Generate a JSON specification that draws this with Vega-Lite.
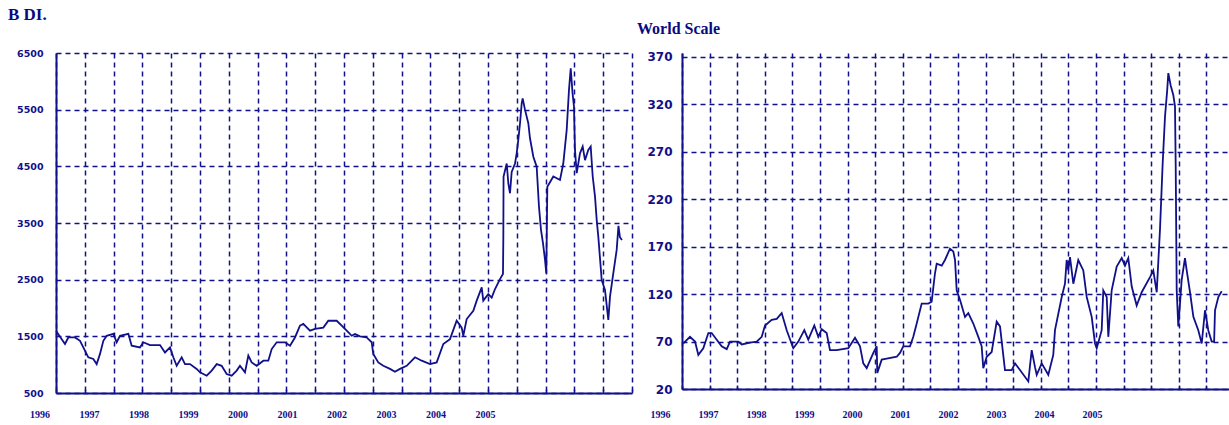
{
  "$schema": "https://vega.github.io/schema/vega-lite/v6.json",
  "background": "white",
  "autosize": {"type": "pad"},
  "padding": {"left": 8, "top": 6, "right": 0, "bottom": 0},
  "bounds": "flush",
  "spacing": 50,
  "config": {"view": {"stroke": null}},
  "datasets": {
    "bdi": [
      {"t": 1996.000, "v": 1600}, {"t": 1996.058, "v": 1510}, {"t": 1996.156, "v": 1365}, {"t": 1996.214, "v": 1480},
      {"t": 1996.330, "v": 1480}, {"t": 1996.417, "v": 1420}, {"t": 1996.474, "v": 1305}, {"t": 1996.561, "v": 1130},
      {"t": 1996.648, "v": 1100}, {"t": 1996.706, "v": 1010}, {"t": 1996.764, "v": 1190}, {"t": 1996.822, "v": 1420},
      {"t": 1996.880, "v": 1510}, {"t": 1996.995, "v": 1545}, {"t": 1997.053, "v": 1395}, {"t": 1997.111, "v": 1510},
      {"t": 1997.256, "v": 1545}, {"t": 1997.314, "v": 1335}, {"t": 1997.458, "v": 1305}, {"t": 1997.516, "v": 1395},
      {"t": 1997.632, "v": 1345}, {"t": 1997.806, "v": 1345}, {"t": 1997.892, "v": 1215}, {"t": 1997.979, "v": 1305},
      {"t": 1998.037, "v": 1130}, {"t": 1998.095, "v": 980}, {"t": 1998.182, "v": 1130}, {"t": 1998.240, "v": 1010},
      {"t": 1998.326, "v": 1010}, {"t": 1998.442, "v": 925}, {"t": 1998.500, "v": 865}, {"t": 1998.616, "v": 805},
      {"t": 1998.703, "v": 895}, {"t": 1998.790, "v": 1010}, {"t": 1998.876, "v": 980}, {"t": 1998.963, "v": 835},
      {"t": 1999.050, "v": 805}, {"t": 1999.137, "v": 895}, {"t": 1999.194, "v": 980}, {"t": 1999.281, "v": 865},
      {"t": 1999.339, "v": 1160}, {"t": 1999.397, "v": 1040}, {"t": 1999.484, "v": 980}, {"t": 1999.600, "v": 1070},
      {"t": 1999.686, "v": 1070}, {"t": 1999.745, "v": 1275}, {"t": 1999.831, "v": 1395}, {"t": 1999.976, "v": 1395},
      {"t": 2000.063, "v": 1335}, {"t": 2000.149, "v": 1480}, {"t": 2000.236, "v": 1690}, {"t": 2000.294, "v": 1720},
      {"t": 2000.323, "v": 1690}, {"t": 2000.410, "v": 1600}, {"t": 2000.497, "v": 1630}, {"t": 2000.641, "v": 1655},
      {"t": 2000.728, "v": 1775}, {"t": 2000.873, "v": 1775}, {"t": 2000.960, "v": 1690}, {"t": 2001.047, "v": 1600},
      {"t": 2001.134, "v": 1510}, {"t": 2001.191, "v": 1540}, {"t": 2001.278, "v": 1500}, {"t": 2001.394, "v": 1480},
      {"t": 2001.481, "v": 1395}, {"t": 2001.508, "v": 1190}, {"t": 2001.595, "v": 1040}, {"t": 2001.682, "v": 980},
      {"t": 2001.799, "v": 925}, {"t": 2001.885, "v": 875}, {"t": 2001.972, "v": 925}, {"t": 2002.088, "v": 980},
      {"t": 2002.233, "v": 1130}, {"t": 2002.349, "v": 1070}, {"t": 2002.493, "v": 1010}, {"t": 2002.609, "v": 1040},
      {"t": 2002.724, "v": 1365}, {"t": 2002.840, "v": 1450}, {"t": 2002.956, "v": 1775}, {"t": 2003.043, "v": 1655},
      {"t": 2003.071, "v": 1510}, {"t": 2003.130, "v": 1805}, {"t": 2003.245, "v": 1950}, {"t": 2003.304, "v": 2130},
      {"t": 2003.391, "v": 2365}, {"t": 2003.418, "v": 2130}, {"t": 2003.505, "v": 2245}, {"t": 2003.564, "v": 2185},
      {"t": 2003.622, "v": 2335}, {"t": 2003.708, "v": 2510}, {"t": 2003.760, "v": 2600}, {"t": 2003.766, "v": 3220},
      {"t": 2003.770, "v": 4320}, {"t": 2003.825, "v": 4550}, {"t": 2003.853, "v": 4200}, {"t": 2003.882, "v": 4025},
      {"t": 2003.911, "v": 4400}, {"t": 2003.969, "v": 4550}, {"t": 2003.998, "v": 4730}, {"t": 2004.026, "v": 4965},
      {"t": 2004.056, "v": 5260}, {"t": 2004.085, "v": 5610}, {"t": 2004.102, "v": 5700}, {"t": 2004.142, "v": 5500},
      {"t": 2004.200, "v": 5260}, {"t": 2004.229, "v": 4995}, {"t": 2004.287, "v": 4670}, {"t": 2004.345, "v": 4495},
      {"t": 2004.385, "v": 3790}, {"t": 2004.420, "v": 3380}, {"t": 2004.455, "v": 3140}, {"t": 2004.490, "v": 2850},
      {"t": 2004.512, "v": 2610}, {"t": 2004.530, "v": 4140}, {"t": 2004.634, "v": 4320}, {"t": 2004.750, "v": 4260},
      {"t": 2004.807, "v": 4550}, {"t": 2004.866, "v": 5140}, {"t": 2004.906, "v": 5850}, {"t": 2004.936, "v": 6230},
      {"t": 2004.967, "v": 5800}, {"t": 2004.993, "v": 5550}, {"t": 2005.010, "v": 4790}, {"t": 2005.040, "v": 4380},
      {"t": 2005.097, "v": 4730}, {"t": 2005.144, "v": 4850}, {"t": 2005.184, "v": 4610}, {"t": 2005.241, "v": 4790},
      {"t": 2005.283, "v": 4850}, {"t": 2005.318, "v": 4320}, {"t": 2005.358, "v": 3965}, {"t": 2005.387, "v": 3555},
      {"t": 2005.415, "v": 3260}, {"t": 2005.474, "v": 2495}, {"t": 2005.531, "v": 2320}, {"t": 2005.589, "v": 1790},
      {"t": 2005.618, "v": 2200}, {"t": 2005.675, "v": 2610}, {"t": 2005.734, "v": 3025}, {"t": 2005.765, "v": 3450},
      {"t": 2005.790, "v": 3250}, {"t": 2005.826, "v": 3200}
    ],
    "ws": [
      {"t": 1996.024, "v": 68}, {"t": 1996.145, "v": 75}, {"t": 1996.236, "v": 70}, {"t": 1996.296, "v": 56},
      {"t": 1996.386, "v": 63}, {"t": 1996.477, "v": 79}, {"t": 1996.538, "v": 79}, {"t": 1996.629, "v": 72},
      {"t": 1996.719, "v": 65}, {"t": 1996.810, "v": 62}, {"t": 1996.870, "v": 70}, {"t": 1997.020, "v": 70},
      {"t": 1997.082, "v": 67}, {"t": 1997.232, "v": 69}, {"t": 1997.353, "v": 70}, {"t": 1997.444, "v": 75},
      {"t": 1997.504, "v": 87}, {"t": 1997.625, "v": 93}, {"t": 1997.716, "v": 94}, {"t": 1997.806, "v": 100},
      {"t": 1997.897, "v": 82}, {"t": 1998.016, "v": 63}, {"t": 1998.107, "v": 70}, {"t": 1998.216, "v": 82},
      {"t": 1998.288, "v": 72}, {"t": 1998.397, "v": 87}, {"t": 1998.469, "v": 75}, {"t": 1998.531, "v": 83},
      {"t": 1998.621, "v": 79}, {"t": 1998.681, "v": 61}, {"t": 1998.802, "v": 61}, {"t": 1999.013, "v": 63},
      {"t": 1999.134, "v": 74}, {"t": 1999.225, "v": 65}, {"t": 1999.284, "v": 47}, {"t": 1999.346, "v": 42},
      {"t": 1999.466, "v": 58}, {"t": 1999.527, "v": 65}, {"t": 1999.538, "v": 37}, {"t": 1999.618, "v": 51},
      {"t": 1999.708, "v": 52}, {"t": 1999.890, "v": 54}, {"t": 1999.949, "v": 58}, {"t": 2000.009, "v": 65},
      {"t": 2000.130, "v": 65}, {"t": 2000.190, "v": 75}, {"t": 2000.252, "v": 89}, {"t": 2000.342, "v": 110},
      {"t": 2000.462, "v": 110}, {"t": 2000.523, "v": 112}, {"t": 2000.583, "v": 142}, {"t": 2000.614, "v": 152},
      {"t": 2000.705, "v": 150}, {"t": 2000.764, "v": 156}, {"t": 2000.855, "v": 168}, {"t": 2000.915, "v": 165},
      {"t": 2000.946, "v": 156}, {"t": 2000.976, "v": 124}, {"t": 2001.036, "v": 114}, {"t": 2001.127, "v": 96},
      {"t": 2001.187, "v": 100}, {"t": 2001.277, "v": 89}, {"t": 2001.368, "v": 75}, {"t": 2001.429, "v": 65},
      {"t": 2001.458, "v": 42}, {"t": 2001.520, "v": 54}, {"t": 2001.610, "v": 59}, {"t": 2001.701, "v": 91},
      {"t": 2001.761, "v": 86}, {"t": 2001.851, "v": 40}, {"t": 2001.973, "v": 40}, {"t": 2002.033, "v": 47},
      {"t": 2002.123, "v": 40}, {"t": 2002.274, "v": 28}, {"t": 2002.335, "v": 61}, {"t": 2002.395, "v": 43},
      {"t": 2002.426, "v": 35}, {"t": 2002.516, "v": 47}, {"t": 2002.636, "v": 35}, {"t": 2002.726, "v": 56},
      {"t": 2002.757, "v": 82}, {"t": 2002.879, "v": 117}, {"t": 2002.938, "v": 131}, {"t": 2002.969, "v": 156},
      {"t": 2002.998, "v": 145}, {"t": 2003.029, "v": 159}, {"t": 2003.089, "v": 131}, {"t": 2003.179, "v": 156},
      {"t": 2003.270, "v": 145}, {"t": 2003.332, "v": 117}, {"t": 2003.422, "v": 96}, {"t": 2003.482, "v": 68},
      {"t": 2003.513, "v": 63}, {"t": 2003.603, "v": 82}, {"t": 2003.632, "v": 124}, {"t": 2003.694, "v": 117},
      {"t": 2003.723, "v": 75}, {"t": 2003.784, "v": 124}, {"t": 2003.875, "v": 149}, {"t": 2003.966, "v": 158},
      {"t": 2004.025, "v": 150}, {"t": 2004.085, "v": 158}, {"t": 2004.147, "v": 128}, {"t": 2004.237, "v": 108},
      {"t": 2004.328, "v": 122}, {"t": 2004.478, "v": 138}, {"t": 2004.538, "v": 145}, {"t": 2004.600, "v": 122},
      {"t": 2004.659, "v": 188}, {"t": 2004.708, "v": 258}, {"t": 2004.750, "v": 307}, {"t": 2004.790, "v": 335},
      {"t": 2004.810, "v": 353}, {"t": 2004.853, "v": 340}, {"t": 2004.900, "v": 330}, {"t": 2004.931, "v": 318},
      {"t": 2004.944, "v": 254}, {"t": 2004.962, "v": 124}, {"t": 2004.991, "v": 86}, {"t": 2005.022, "v": 110},
      {"t": 2005.052, "v": 135}, {"t": 2005.112, "v": 158}, {"t": 2005.143, "v": 145}, {"t": 2005.203, "v": 122},
      {"t": 2005.264, "v": 96}, {"t": 2005.353, "v": 82}, {"t": 2005.415, "v": 68}, {"t": 2005.475, "v": 103},
      {"t": 2005.534, "v": 82}, {"t": 2005.596, "v": 70}, {"t": 2005.640, "v": 70}, {"t": 2005.656, "v": 103},
      {"t": 2005.716, "v": 117}, {"t": 2005.777, "v": 123}
    ]
  },
  "hconcat": [
    {
      "width": 576,
      "height": 340,
      "title": {"text": "B DI.", "anchor": "start", "frame": "group", "dx": -48, "offset": 24, "font": "Liberation Serif", "fontSize": 17, "fontWeight": "bold", "color": "#0a0a80"},
      "data": {"name": "bdi"},
      "mark": {"type": "line", "color": "#10108a", "strokeWidth": 1.8},
      "encoding": {
        "x": {
          "field": "t", "type": "quantitative",
          "scale": {"domain": [1996, 2006], "nice": false, "zero": false},
          "axis": {
            "values": [1996, 1996.5, 1997, 1997.5, 1998, 1998.5, 1999, 1999.5, 2000, 2000.5, 2001, 2001.5, 2002, 2002.5, 2003, 2003.5, 2004, 2004.5, 2005, 2005.5, 2006],
            "title": null, "grid": true, "gridColor": "#10108a", "gridDash": [5, 4], "gridWidth": 1.5,
            "domainColor": "#10108a", "domainWidth": 2, "tickColor": "#10108a", "tickSize": -4, "tickWidth": 1.5,
            "labelExpr": "datum.value % 1 == 0 && datum.value < 2006 ? format(datum.value, 'd') : ''",
            "labelFont": "Liberation Sans Narrow", "labelFontSize": 10, "labelFontWeight": "bold", "labelColor": "#10108a",
            "labelPadding": 20, "labelFlush": false, "labelOverlap": false, "labelBound": false,
            "labelOffset": {"expr": "-16.5 - 8.1 * (datum.value - 1996)"}
          }
        },
        "y": {
          "field": "v", "type": "quantitative",
          "scale": {"domain": [500, 6500], "nice": false, "zero": false},
          "axis": {
            "values": [500, 1500, 2500, 3500, 4500, 5500, 6500], "format": "d",
            "title": null, "grid": true, "gridColor": "#10108a", "gridDash": [5, 4], "gridWidth": 1.5,
            "domainColor": "#10108a", "domainWidth": 2, "ticks": false,
            "labelFont": "DejaVu Sans", "labelFontSize": 9.5, "labelFontWeight": "bold", "labelColor": "#10108a",
            "labelPadding": 13
          }
        }
      }
    },
    {
      "width": 552,
      "height": 336,
      "title": {"text": "World Scale", "anchor": "start", "frame": "group", "dx": -45, "offset": 14, "font": "Liberation Serif", "fontSize": 16, "fontWeight": "bold", "color": "#0a0a80"},
      "data": {"name": "ws"},
      "mark": {"type": "line", "color": "#10108a", "strokeWidth": 1.8},
      "encoding": {
        "x": {
          "field": "t", "type": "quantitative",
          "scale": {"domain": [1996, 2006], "nice": false, "zero": false},
          "axis": {
            "values": [1996, 1996.5, 1997, 1997.5, 1998, 1998.5, 1999, 1999.5, 2000, 2000.5, 2001, 2001.5, 2002, 2002.5, 2003, 2003.5, 2004, 2004.5, 2005, 2005.5, 2006],
            "title": null, "grid": true, "gridColor": "#10108a", "gridDash": [5, 4], "gridWidth": 1.5,
            "domainColor": "#10108a", "domainWidth": 2, "tickColor": "#10108a", "tickSize": -4, "tickWidth": 1.5,
            "labelExpr": "datum.value % 1 == 0 && datum.value < 2006 ? format(datum.value, 'd') : ''",
            "labelFont": "Liberation Sans Narrow", "labelFontSize": 10, "labelFontWeight": "bold", "labelColor": "#10108a",
            "labelPadding": 24, "labelFlush": false, "labelOverlap": false, "labelBound": false,
            "labelOffset": {"expr": "-22 - 7.2 * (datum.value - 1996)"}
          }
        },
        "y": {
          "field": "v", "type": "quantitative",
          "scale": {"domain": [20, 374.2], "nice": false, "zero": false},
          "axis": {
            "values": [20, 70, 120, 170, 220, 270, 320, 370], "format": "d",
            "title": null, "grid": true, "gridColor": "#10108a", "gridDash": [5, 4], "gridWidth": 1.5,
            "domainColor": "#10108a", "domainWidth": 2, "ticks": false,
            "labelFont": "DejaVu Sans", "labelFontSize": 12, "labelFontWeight": "bold", "labelColor": "#10108a",
            "labelPadding": 10
          }
        }
      }
    }
  ]
}
